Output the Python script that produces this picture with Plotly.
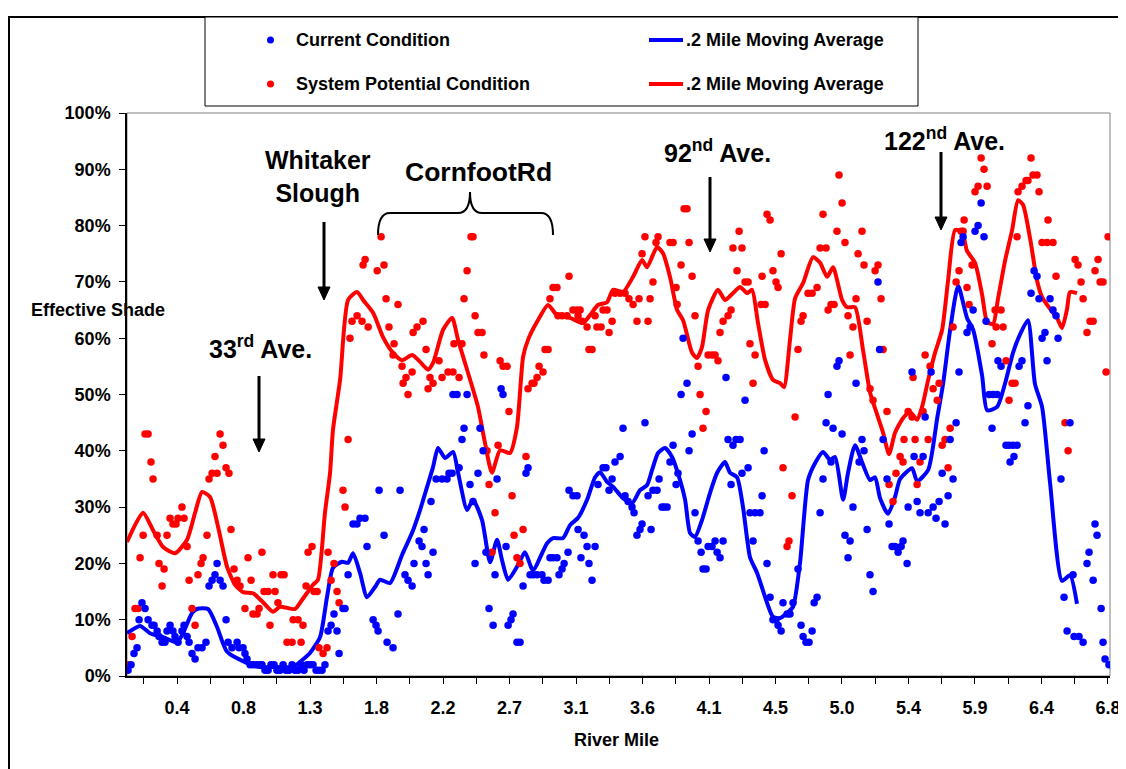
import plotly.graph_objects as go

# ---------------- data (river mile, effective shade %) ----------------
cur_mile = [0.063,0.084,0.104,0.125,0.139,0.159,0.180,0.201,0.228,0.242,0.263,0.276,0.297,0.317,0.331,0.352,0.372,0.386,0.407,0.434,
            0.448,0.469,0.483,0.503,0.524,0.544,0.572,0.599,0.620,0.641,0.661,0.675,0.696,0.716,0.737,0.751,0.778,0.813,0.826,0.854,
            0.867,0.881,0.902,0.922,0.943,0.964,0.984,1.005,1.026,1.046,1.067,1.087,1.108,1.129,1.149,1.170,1.191,1.211,1.232,1.253,
            1.273,1.294,1.314,1.335,1.356,1.376,1.397,1.417,1.438,1.459,1.479,1.500,1.514,1.541,1.555,1.576,1.610,1.637,1.658,1.692,
            1.706,1.748,1.768,1.782,1.789,1.823,1.844,1.885,1.919,1.933,1.967,1.988,2.016,2.029,2.064,2.084,2.098,2.112,2.126,2.146,
            2.160,2.181,2.222,2.256,2.270,2.291,2.297,2.325,2.339,2.359,2.373,2.394,2.414,2.435,2.449,2.469,2.483,2.504,2.524,2.545,
            2.573,2.586,2.600,2.628,2.641,2.662,2.676,2.696,2.710,2.737,2.758,2.779,2.799,2.813,2.827,2.848,2.875,2.909,2.923,2.951,
            2.964,2.985,3.012,3.026,3.047,3.061,3.088,3.095,3.122,3.150,3.157,3.177,3.198,3.219,3.232,3.253,3.274,3.294,3.329,3.349,
            3.370,3.391,3.411,3.446,3.466,3.480,3.501,3.528,3.542,3.562,3.583,3.597,3.617,3.638,3.659,3.672,3.700,3.714,3.734,3.748,
            3.769,3.789,3.810,3.831,3.844,3.865,3.879,3.906,3.920,3.941,3.961,3.982,4.003,4.016,4.037,4.051,4.078,4.099,4.113,4.133,
            4.154,4.174,4.188,4.209,4.222,4.243,4.271,4.284,4.305,4.326,4.339,4.360,4.374,4.408,4.422,4.436,4.456,4.477,4.497,4.518,
            4.532,4.553,4.566,4.594,4.614,4.635,4.669,4.690,4.704,4.724,4.745,4.766,4.780,4.800,4.821,4.841,4.862,4.876,4.896,4.910,
            4.937,4.951,4.972,4.992,5.013,5.027,5.047,5.068,5.089,5.109,5.123,5.144,5.164,5.185,5.230,5.219,5.254,5.281,5.295,5.316,
            5.336,5.357,5.378,5.391,5.419,5.426,5.453,5.467,5.488,5.508,5.529,5.543,5.564,5.584,5.598,5.618,5.639,5.660,5.680,5.701,
            5.715,5.735,5.756,5.776,5.790,5.804,5.831,5.852,5.873,5.886,5.907,5.928,5.948,5.962,5.983,6.003,6.010,6.038,6.044,6.065,
            6.099,6.120,6.127,6.147,6.154,6.175,6.189,6.209,6.230,6.250,6.271,6.292,6.312,6.326,6.347,6.367,6.381,6.402,6.422,6.443,
            6.457,6.477,6.498,6.519,6.539,6.560,6.567,6.601,6.629,6.656,6.670,6.698,6.711,6.725,6.753,6.766,6.780,6.807]
cur_pct = [1,2,4,5,10,13,12,10,9,9,8,7,6,6,8,9,8,7,6,8,
           9,7,6,4,3,5,5,6,16,17,18,20,17,16,10,6,5,6,5,5,
           4,3,2,2,2,2,2,1,1,2,2,1,1,2,1,1,2,1,1,2,
           1,2,2,2,1,1,1,2,8,9,11,8,4,12,12,18,27,27,28,28,
           23,10,9,8,33,25,6,5,11,33,18,17,16,20,24,23,26,20,18,31,
           22,35,35,35,36,36,50,50,37,42,44,50,34,31,20,36,44,40,22,12,
           9,18,35,51,50,23,9,10,11,6,6,16,36,37,18,18,18,18,17,17,
           21,21,21,18,19,20,22,33,32,32,26,21,25,23,20,17,23,34,37,37,
           33,35,38,39,44,32,31,30,29,25,26,27,45,32,26,33,33,35,30,30,
           30,38,41,34,36,50,60,52,40,43,29,24,22,19,19,23,23,24,22,21,
           24,53,42,34,41,42,42,36,49,37,29,24,29,29,32,40,20,14,10,10,
           9,8,13,11,11,13,19,9,7,6,6,8,13,14,29,35,45,50,38,44,
           55,56,43,25,21,24,30,52,38,42,40,26,18,15,58,70,42,35,27,23,
           23,22,23,24,20,30,54,39,31,29,39,46,29,54,30,28,31,36,27,32,
           42,35,45,54,77,78,61,62,65,79,80,84,78,63,50,44,50,50,56,55,
           41,41,38,41,39,41,55,56,45,48,68,72,71,67,60,61,56,67,65,64,
           60,35,14,8,45,18,7,7,6,20,22,17,27,25,12,6,3,2]

pot_mile = [0.063,0.091,0.111,0.132,0.146,0.167,0.180,0.201,0.221,0.235,0.263,0.276,0.297,0.311,0.331,0.352,0.372,0.393,0.407,0.434,
            0.448,0.469,0.483,0.503,0.524,0.544,0.565,0.579,0.606,0.620,0.641,0.661,0.675,0.696,0.716,0.737,0.757,0.771,0.792,0.813,
            0.833,0.867,0.888,0.909,0.922,0.950,0.964,0.984,0.998,1.026,1.039,1.060,1.074,1.094,1.115,1.136,1.156,1.191,1.198,1.232,
            1.253,1.266,1.287,1.301,1.328,1.342,1.363,1.376,1.404,1.431,1.438,1.459,1.479,1.500,1.514,1.541,1.555,1.576,1.589,1.603,
            1.638,1.672,1.714,1.679,1.693,1.776,1.803,1.823,1.837,1.857,1.885,1.892,1.919,1.947,1.954,1.974,1.988,2.016,2.023,2.050,
            2.091,2.112,2.126,2.139,2.160,2.201,2.222,2.263,2.297,2.304,2.339,2.359,2.373,2.394,2.421,2.435,2.449,2.469,2.497,2.510,
            2.531,2.545,2.565,2.586,2.607,2.621,2.641,2.669,2.682,2.703,2.717,2.737,2.758,2.779,2.799,2.813,2.841,2.854,2.875,2.889,
            2.916,2.930,2.951,2.964,2.985,3.012,3.019,3.047,3.081,3.095,3.122,3.150,3.157,3.171,3.184,3.219,3.232,3.253,3.274,3.287,
            3.315,3.329,3.356,3.370,3.391,3.411,3.446,3.480,3.507,3.535,3.562,3.576,3.597,3.617,3.638,3.652,3.672,3.693,3.707,3.789,
            3.810,3.831,3.838,3.865,3.886,3.906,3.920,3.941,3.961,3.982,3.996,4.016,4.037,4.051,4.078,4.099,4.119,4.133,4.154,4.188,
            4.209,4.222,4.250,4.264,4.284,4.305,4.326,4.339,4.360,4.374,4.415,4.422,4.443,4.456,4.477,4.497,4.518,4.532,4.553,4.566,
            4.594,4.607,4.628,4.649,4.669,4.690,4.704,4.738,4.766,4.800,4.821,4.841,4.862,4.876,4.896,4.917,4.937,4.951,4.972,4.992,
            5.013,5.027,5.047,5.068,5.082,5.109,5.123,5.144,5.164,5.185,5.199,5.219,5.240,5.254,5.281,5.295,5.322,5.343,5.371,5.391,
            5.398,5.426,5.453,5.460,5.474,5.488,5.508,5.529,5.543,5.564,5.577,5.598,5.626,5.639,5.660,5.680,5.701,5.715,5.735,5.756,
            5.776,5.790,5.804,5.811,5.831,5.845,5.866,5.886,5.907,5.928,5.948,5.969,6.003,6.024,6.065,6.031,6.079,6.099,6.120,6.141,
            6.161,6.175,6.182,6.209,6.237,6.250,6.271,6.285,6.312,6.326,6.347,6.381,6.388,6.422,6.443,6.505,6.526,6.574,6.594,6.615,
            6.629,6.656,6.677,6.698,6.711,6.732,6.746,6.766,6.787,6.801]
pot_pct = [2,7,12,12,21,25,43,43,38,35,25,20,16,19,25,28,27,27,28,30,
           28,23,17,12,9,18,20,21,25,35,36,39,36,43,41,37,36,26,19,17,
           16,12,21,17,11,11,12,22,15,15,9,18,15,13,18,18,6,6,10,10,
           6,9,16,22,23,15,15,5,4,5,22,17,20,15,13,33,30,42,60,63,
           64,63,62,73,74,72,78,73,67,62,57,59,66,55,52,53,50,54,61,62,
           63,58,51,53,52,56,53,54,54,59,53,59,67,72,78,78,64,61,61,57,
           40,34,22,29,41,56,55,55,47,32,25,21,20,26,39,51,52,52,53,55,
           54,58,58,67,69,69,64,64,64,71,65,65,64,65,63,62,58,58,64,62,
           62,65,65,61,63,68,68,68,67,66,63,67,75,78,63,67,70,77,78,77,
           77,69,66,73,83,83,77,71,64,55,50,44,47,57,57,57,56,61,63,64,
           65,76,72,79,76,70,70,59,52,57,66,71,66,82,81,72,70,69,75,37,
           23,24,32,46,58,63,64,68,68,69,76,82,76,65,66,66,79,89,84,77,
           64,57,62,67,75,79,73,63,51,49,72,73,67,58,47,34,31,36,39,38,
           42,47,46,53,42,34,38,47,57,42,55,51,49,52,41,42,37,44,62,70,
           72,79,79,81,69,66,73,86,87,92,90,87,59,65,65,62,62,56,49,52,
           52,78,86,87,88,88,92,89,89,86,77,77,81,77,71,45,40,74,73,70,
           67,61,63,63,72,74,70,70,54,78]

cur_ma_mile = [0.056,0.146,0.214,0.304,0.400,0.441,0.503,0.537,0.613,0.675,0.744,0.881,0.971,1.087,1.198,1.259,1.314,1.383,1.431,1.472,
               1.534,1.576,1.610,1.658,1.706,1.761,1.796,1.864,1.947,2.023,2.071,2.119,2.160,2.194,2.243,2.298,2.332,2.394,2.435,2.497,
               2.552,2.600,2.634,2.676,2.744,2.792,2.847,2.944,2.985,3.054,3.102,3.157,3.219,3.274,3.308,3.356,3.398,3.466,3.528,3.583,
               3.631,3.666,3.707,3.755,3.803,3.858,3.893,3.927,3.961,4.009,4.064,4.113,4.167,4.202,4.250,4.291,4.339,4.388,4.456,4.497,
               4.546,4.594,4.635,4.683,4.738,4.786,4.841,4.889,4.924,4.979,5.013,5.061,5.109,5.164,5.199,5.233,5.288,5.336,5.371,5.453,
               5.488,5.564,5.626,5.667,5.715,5.770,5.831,5.873,5.935,5.969,6.038,6.092,6.147,6.196,6.250,6.298,6.347,6.402,6.484,6.539,
               6.587]
cur_ma_pct = [7.6,8.9,7.6,6.9,6.0,7.6,11.2,11.9,11.9,8.7,4.3,2.3,1.6,1.6,1.6,2.8,4.1,6.9,14.0,19.2,
              20.3,20.1,21.8,18.3,14.0,15.8,17.1,16.5,21.5,25.9,29.5,33.6,37.1,40.5,38.7,39.8,36.1,29.5,31.3,27.7,
              20.2,24.2,20.6,17.1,19.7,22.0,18.8,23.6,24.5,24.5,26.8,28.1,31.3,35.3,36.2,34.5,33.6,31.6,30.7,33.0,
              33.9,36.6,39.6,40.5,38.9,34.8,31.3,25.4,24.7,27.7,32.5,36.1,38.0,36.1,35.3,30.0,21.1,18.3,13.0,10.5,
              10.3,11.2,12.3,20.1,34.8,37.8,39.8,38.4,38.9,31.3,36.1,41.0,38.0,34.8,35.3,31.6,28.8,31.8,35.0,36.9,
              34.6,36.6,45.8,52.0,61.5,69.3,63.6,61.5,53.3,47.2,47.8,51.9,57.4,60.7,63.2,51.9,47.8,34.3,16.9,17.9,
              12.8]

pot_ma_mile = [0.056,0.166,0.235,0.304,0.386,0.469,0.524,0.572,0.627,0.682,0.744,0.799,0.854,0.922,0.991,1.060,1.108,1.211,1.259,1.335,
               1.369,1.417,1.452,1.472,1.521,1.576,1.638,1.679,1.748,1.816,1.885,1.947,2.016,2.071,2.126,2.160,2.229,2.291,2.332,2.394,
               2.469,2.517,2.565,2.621,2.689,2.737,2.779,2.813,2.875,2.951,3.012,3.102,3.191,3.239,3.294,3.356,3.398,3.466,3.535,3.597,
               3.631,3.700,3.741,3.789,3.838,3.879,3.941,3.975,4.009,4.051,4.119,4.167,4.222,4.271,4.319,4.353,4.394,4.443,4.497,4.546,
               4.573,4.614,4.649,4.704,4.772,4.821,4.869,4.910,4.972,5.006,5.061,5.116,5.164,5.212,5.254,5.295,5.336,5.391,5.439,5.488,
               5.522,5.564,5.611,5.660,5.701,5.749,5.797,5.831,5.886,5.935,5.969,6.010,6.044,6.092,6.141,6.182,6.216,6.264,6.312,6.347,
               6.402,6.450,6.484,6.519,6.539,6.587]
pot_ma_pct = [23.8,29.0,25.9,22.9,21.8,24.2,29.0,32.7,31.8,26.5,19.4,16.2,14.9,14.7,13.1,11.4,12.3,11.9,13.5,16.2,
              17.1,29.0,36.1,43.7,52.6,66.8,68.2,66.8,64.5,60.2,57.4,56.1,57.0,55.8,54.4,55.6,61.5,63.6,59.7,54.4,
              47.8,41.4,36.1,40.1,39.6,44.2,56.7,59.7,62.9,65.9,64.1,63.6,62.7,64.1,65.9,66.4,68.6,68.2,70.9,73.9,
              72.6,76.2,75.1,70.9,65.0,63.2,57.4,56.5,58.4,65.0,68.6,66.8,68.0,69.1,68.0,68.6,62.7,56.1,52.6,52.0,
              51.3,59.7,67.1,69.8,74.4,73.4,70.9,72.6,66.8,65.5,65.5,57.9,50.4,46.5,43.2,39.4,43.2,45.8,46.9,45.5,
              47.8,52.6,57.4,61.5,70.3,79.2,78.9,75.5,73.4,67.7,62.9,62.5,67.0,73.7,79.2,84.5,83.7,77.8,70.3,67.3,
              65.2,63.6,61.8,65.2,68.2,68.0]

x_tick_labels = ["0.4", "0.8", "1.3", "1.8", "2.2", "2.7", "3.1", "3.6", "4.1", "4.5", "5.0", "5.4", "5.9", "6.4", "6.8"]
first_label_mile = 0.4
label_step = 6.4 / 14
x_range = [0.056, 6.814]
y_tick_vals = list(range(0, 101, 10))
y_tick_text = [f"{v}%" for v in y_tick_vals]

# ---------------- layout helpers ----------------
# The page body adds an 8 px offset, so the figure is drawn 8 px smaller and
# positions below are given in page coordinates.
OFF = 8
W, H = 1126 - OFF, 769 - OFF
PLOT_L, PLOT_R, PLOT_T, PLOT_B = 127, 1110, 113, 676     # page coordinates
PW, PH = PLOT_R - PLOT_L, PLOT_B - PLOT_T
ML, MT = PLOT_L - OFF, PLOT_T - OFF
MR, MB = W - ML - PW, H - MT - PH
FONT = "Liberation Sans, Arial, sans-serif"
BLUE, RED = "#0000FF", "#FF0000"


def px(x):
    return (x - PLOT_L) / PW


def py(y):
    return (PLOT_B - y) / PH


major_vals = [first_label_mile + k * label_step for k in range(len(x_tick_labels))]
minor_vals = [first_label_mile + (k - 0.5) * label_step for k in range(len(x_tick_labels))]

fig = go.Figure()
fig.add_trace(go.Scatter(x=pot_ma_mile, y=pot_ma_pct, mode="lines",
                         line=dict(color=RED, width=4, shape="spline", smoothing=0.6), hoverinfo="skip"))
fig.add_trace(go.Scatter(x=cur_ma_mile, y=cur_ma_pct, mode="lines",
                         line=dict(color=BLUE, width=4, shape="spline", smoothing=0.6), hoverinfo="skip"))
fig.add_trace(go.Scatter(x=pot_mile, y=pot_pct, mode="markers",
                         marker=dict(color=RED, size=7.5, line=dict(width=0))))
fig.add_trace(go.Scatter(x=cur_mile, y=cur_pct, mode="markers",
                         marker=dict(color=BLUE, size=7.5, line=dict(width=0))))

tickfont = dict(family=FONT, size=18, color="black", weight="bold")
fig.update_xaxes(range=x_range, tickvals=major_vals, ticktext=x_tick_labels, ticks="outside", ticklen=6,
                 tickcolor="black", showline=True, linecolor="black", linewidth=1.5, showgrid=False,
                 zeroline=False, tickfont=tickfont, ticklabelstandoff=9,
                 minor=dict(tickmode="array", tickvals=minor_vals, ticks="outside", ticklen=6,
                            tickcolor="black", showgrid=False))
fig.update_yaxes(range=[0, 100], tickvals=y_tick_vals, ticktext=y_tick_text, ticks="outside", ticklen=6,
                 tickcolor="black", showline=True, linecolor="black", linewidth=1.5, showgrid=False,
                 zeroline=False, tickfont=tickfont, ticklabelstandoff=5)

shapes = []
# plot-area border (grey)
shapes.append(dict(type="rect", xref="paper", yref="paper", x0=0, x1=1, y0=0, y1=1,
                   line=dict(color="#808080", width=1), layer="below"))
# outer chart border
shapes.append(dict(type="rect", xref="paper", yref="paper", x0=px(9), x1=px(1140), y0=py(790), y1=py(17),
                   line=dict(color="black", width=2)))
# legend box
shapes.append(dict(type="rect", xref="paper", yref="paper", x0=px(205), x1=px(918), y0=py(106), y1=py(17),
                   line=dict(color="black", width=1), fillcolor="white"))
for ycen, col in [(40, BLUE), (84, RED)]:
    shapes.append(dict(type="circle", xref="paper", yref="paper", x0=px(267), x1=px(274),
                       y0=py(ycen + 3.5), y1=py(ycen - 3.5), line=dict(width=0), fillcolor=col))
    shapes.append(dict(type="line", xref="paper", yref="paper", x0=px(649), x1=px(683),
                       y0=py(ycen), y1=py(ycen), line=dict(color=col, width=4)))
# brace over Cornfoot Rd
bx0, bx1, bxc, byl, bye, byt, r = 378, 553, 470, 213, 235, 192, 12
path = (f"M {px(bx0)},{py(bye)} Q {px(bx0)},{py(byl)} {px(bx0 + r)},{py(byl)} "
        f"L {px(bxc - r)},{py(byl)} Q {px(bxc)},{py(byl)} {px(bxc)},{py(byt)} "
        f"Q {px(bxc)},{py(byl)} {px(bxc + r)},{py(byl)} "
        f"L {px(bx1 - r)},{py(byl)} Q {px(bx1)},{py(byl)} {px(bx1)},{py(bye)}")
shapes.append(dict(type="path", xref="paper", yref="paper", path=path, line=dict(color="black", width=2)))
# location arrows (shaft + filled head)
for (ax_px, tip_y, tail_y) in [(259, 452, 376), (324, 300, 222), (710, 252, 177), (941, 230, 152)]:
    head = 13
    shapes.append(dict(type="line", xref="paper", yref="paper", x0=px(ax_px), x1=px(ax_px),
                       y0=py(tail_y), y1=py(tip_y - head + 2), line=dict(color="black", width=3)))
    shapes.append(dict(type="path", xref="paper", yref="paper",
                       path=f"M {px(ax_px - 6)},{py(tip_y - head)} L {px(ax_px + 6)},{py(tip_y - head)} "
                            f"L {px(ax_px)},{py(tip_y)} Z",
                       fillcolor="black", line=dict(color="black", width=1)))

ann = []
small = dict(family=FONT, size=18, color="black", weight="bold")
big = dict(family=FONT, size=25, color="black", weight="bold")
ann.append(dict(text="Current Condition", x=px(294), y=py(40), xanchor="left", yanchor="middle", font=small))
ann.append(dict(text="System Potential Condition", x=px(294), y=py(84), xanchor="left", yanchor="middle", font=small))
ann.append(dict(text=".2 Mile Moving Average", x=px(684), y=py(40), xanchor="left", yanchor="middle", font=small))
ann.append(dict(text=".2 Mile Moving Average", x=px(684), y=py(84), xanchor="left", yanchor="middle", font=small))
ann.append(dict(text="Effective Shade", x=px(29), y=py(310), xanchor="left", yanchor="middle", font=small))
ann.append(dict(text="River Mile", x=px(616), y=py(740), xanchor="center", yanchor="middle", font=small))
ann.append(dict(text="33<sup>rd</sup> Ave.", x=px(260), y=py(347), xanchor="center", yanchor="middle", font=big))
ann.append(dict(text="Whitaker<br>Slough", x=px(318), y=py(177), xanchor="center", yanchor="middle", font=big))
ann.append(dict(text="CornfootRd", x=px(478), y=py(172), xanchor="center", yanchor="middle",
                font=dict(family=FONT, size=26.5, color="black", weight="bold")))
ann.append(dict(text="92<sup>nd</sup> Ave.", x=px(717), y=py(151), xanchor="center", yanchor="middle", font=big))
ann.append(dict(text="122<sup>nd</sup> Ave.", x=px(944), y=py(139), xanchor="center", yanchor="middle", font=big))
for a in ann:
    a.setdefault("xref", "paper")
    a.setdefault("yref", "paper")
    a.setdefault("showarrow", False)

fig.update_layout(width=W, height=H, margin=dict(l=ML, r=MR, t=MT, b=MB, autoexpand=False),
                  paper_bgcolor="white", plot_bgcolor="white", showlegend=False,
                  shapes=shapes, annotations=ann, font=dict(family=FONT))
fig.write_html("out.html")
